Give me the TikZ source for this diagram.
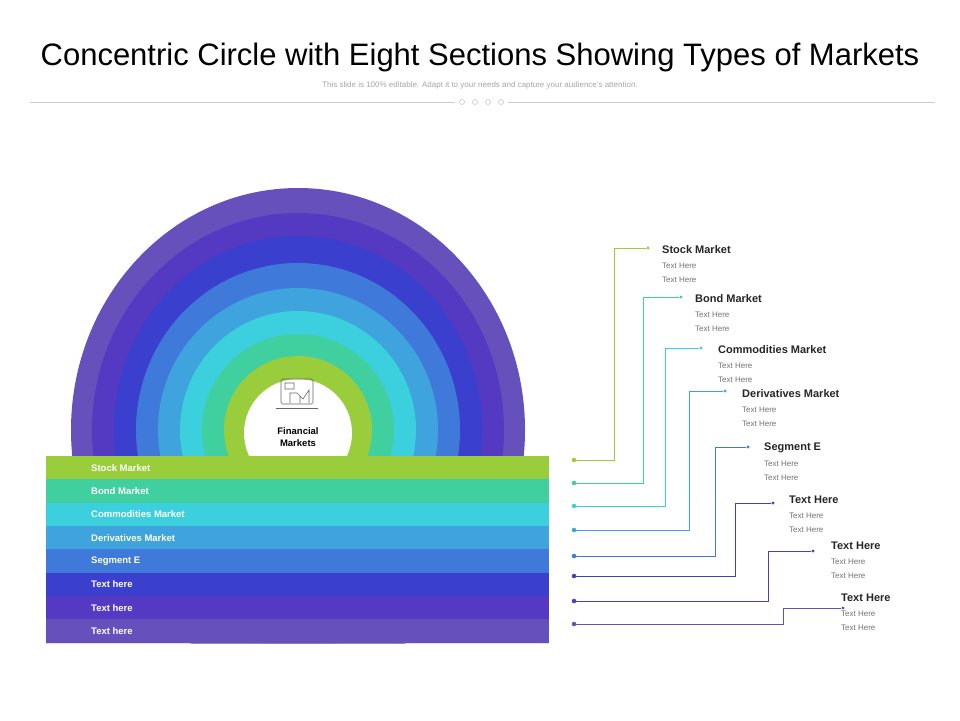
\documentclass[tikz,border=0pt]{standalone}
\usepackage{fontspec}
\setmainfont{Liberation Sans}
\begin{document}
\begin{tikzpicture}[x=1pt,y=-1pt,
  blab/.style={anchor=west,text=white,inner sep=0pt,font=\bfseries\fontsize{9.5}{11}\selectfont},
  ttl/.style={anchor=west,inner sep=0pt,font=\bfseries\fontsize{11}{13}\selectfont,text=black!85},
  sub/.style={anchor=north west,align=left,font=\fontsize{8}{14}\selectfont,text=black!55,inner sep=0pt},
  dot/.style={circle,fill,inner sep=1.6pt},
  tip/.style={circle,fill,inner sep=1.1pt},
  con/.style={line width=0.8pt}]
\useasboundingbox (0,0) rectangle (960,720);
\fill[white] (0,0) rectangle (960,720);
\definecolor{c1}{HTML}{9ACD3C}\definecolor{c2}{HTML}{40CF9E}\definecolor{c3}{HTML}{3CD0DE}
\definecolor{c4}{HTML}{3FA3DE}\definecolor{c5}{HTML}{3F7ADB}\definecolor{c6}{HTML}{3A3FCE}
\definecolor{c7}{HTML}{5439C2}\definecolor{c8}{HTML}{6550BC}
\node[font=\fontsize{31}{36}\selectfont] (title) at (480,57) {Concentric Circle with Eight Sections Showing Types of Markets};
\node[font=\fontsize{8}{9}\selectfont,text=black!35] (subt) at (480,85) {This slide is 100\% editable. Adapt it to your needs and capture your audience's attention.};
\draw[black!20] (30,102)--(455,102) (508,102)--(935,102);
\foreach \x in {462,475,488,501} \draw[black!30] (\x,102) circle (2.5);
% rings
\begin{scope}
\clip (0,0) rectangle (960,643);
\foreach \rx/\ry/\c in {227/242/c8,206/217/c7,184/194/c6,162/167/c5,140/142/c4,118/119/c3,96/96/c2,74/74/c1}
  \fill[\c] (298,430) ellipse [x radius=\rx, y radius=\ry];
\end{scope}
\fill[white] (298,433) circle (54);
\node[font=\bfseries\fontsize{9.5}{12}\selectfont,align=center] (fm) at (298,437) {Financial\\Markets};
\draw[black!60,line width=0.6pt,rounded corners=1.5] (281,379) rectangle (313,404);
\draw[black!60] (276,408)--(318,408);
\draw[black!60,line width=0.6pt] (285,383) rectangle (294,389) (290,403)--(290,393)--(297,393)--(303,399)--(309,390)--(309,403) (300,403)--(300,396);
% bands
\foreach \i/\c/\t in {0/c1/Stock Market,1/c2/Bond Market,2/c3/Commodities Market,3/c4/Derivatives Market,4/c5/Segment E,5/c6/Text here,6/c7/Text here,7/c8/Text here}{
  \fill[\c] (46,456+23.35*\i) rectangle (549,479.35+23.35*\i);
  \draw[black!25,opacity=0.5] (46,479.35+23.35*\i)--(549,479.35+23.35*\i);
  \node[blab] (b\i) at (91,467.7+23.35*\i) {\t};
}
% connectors
\foreach \i/\c/\dy/\vx/\ty/\ex in {
 1/c1/460/614/248/648, 2/c2/483/643/297/681, 3/c3/506/665/348/701, 4/c4/530/689/391/725,
 5/c5/556/715/447/748, 6/c6/576/735/503/773, 7/c7/601/768/551/813, 8/c8/624/783/608/843}{
  \node[dot,\c] (s\i) at (574,\dy) {};
  \node[tip,\c] (e\i) at (\ex,\ty) {};
  \coordinate (k\i) at (\vx,\dy);
  \coordinate (m\i) at (\vx,\ty);
  \draw[con,\c] (s\i)--(k\i)--(m\i)--(e\i);
}
\foreach \i/\tx/\tyy/\t in {1/662/250/Stock Market,2/695/299/Bond Market,3/718/350/Commodities Market,4/742/394/Derivatives Market,5/764/448/Segment E,6/789/500/Text Here,7/831/546/Text Here,8/841/598/Text Here}{
  \node[ttl] (t\i) at (\tx,\tyy) {\t};
  \node[sub] (d\i) at (\tx,\tyy+13) {Text Here\\Text Here};
}
\end{tikzpicture}
\end{document}
